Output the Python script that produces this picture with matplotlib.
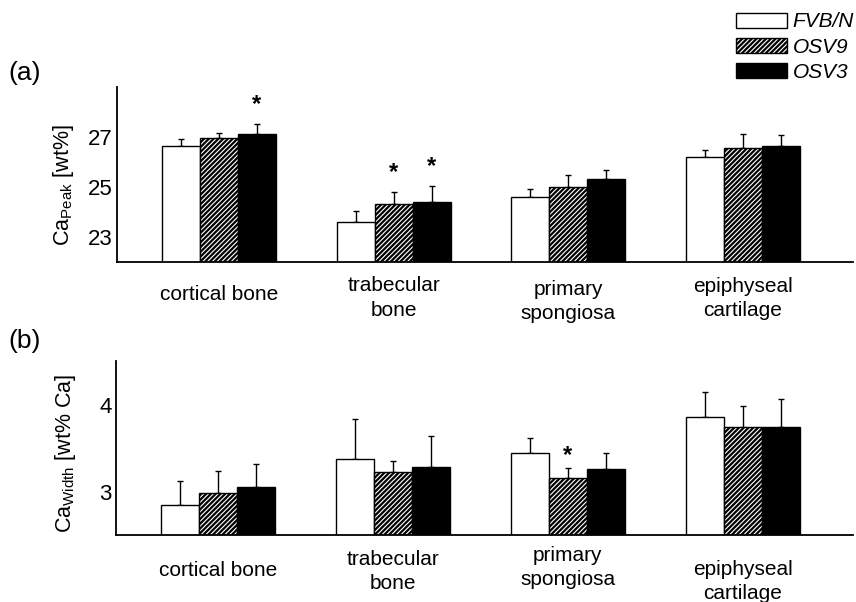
import matplotlib
matplotlib.use("Agg")
import matplotlib.pyplot as plt
import numpy as np

plt.rcParams["font.family"] = ["Liberation Sans", "DejaVu Sans"]
plt.rcParams["hatch.linewidth"] = 1.6

# data
groups = ["cortical bone", "trabecular\nbone", "primary\nspongiosa", "epiphyseal\ncartilage"]
strains = ["FVB/N", "OSV9", "OSV3"]

peak_fvb = [26.64, 23.59, 24.61, 26.19]
peak_osv9 = [26.95, 24.32, 25.01, 26.57]
peak_osv3 = [27.11, 24.41, 25.33, 26.64]
peak_err_fvb = [0.27, 0.45, 0.32, 0.30]
peak_err_osv9 = [0.22, 0.47, 0.46, 0.55]
peak_err_osv3 = [0.40, 0.62, 0.34, 0.44]
peak_stars = [(0, 2), (1, 1), (1, 2)]

width_fvb = [2.85, 3.375, 3.45, 3.86]
width_osv9 = [2.98, 3.23, 3.16, 3.74]
width_osv3 = [3.05, 3.28, 3.26, 3.74]
width_err_fvb = [0.27, 0.455, 0.17, 0.28]
width_err_osv9 = [0.26, 0.12, 0.11, 0.24]
width_err_osv3 = [0.27, 0.36, 0.18, 0.32]
width_stars = [(2, 1)]

# styles
faces = ["white", "white", "black"]
hatches = [None, "///////", None]
bar_w = 0.217

# label offsets below axis (px) per group, for each panel
label_off_a = [33, 36, 39.5, 36.5]
label_off_b = [35, 36.5, 32.5, 46.5]

fig = plt.figure(figsize=(8.56, 6.02), dpi=100)
ax_a = fig.add_axes([0.1367, 0.5648, 0.8598, 0.2907])
ax_b = fig.add_axes([0.1355, 0.1108, 0.8610, 0.2895])


def draw_panel(ax, vals, errs, stars, ylim, yticks, ylabel, offs, star_off):
    x = np.arange(len(groups))
    tops = []
    for k in range(3):
        pos = x + (k - 1) * bar_w
        ax.bar(pos, vals[k], bar_w, color=faces[k], edgecolor="black",
               hatch=hatches[k], linewidth=1.0, zorder=2)
        ax.errorbar(pos, vals[k], yerr=[np.zeros(len(x)), errs[k]], fmt="none",
                    ecolor="black", elinewidth=1.0, capsize=2.2, capthick=1.0, zorder=1)
        tops.append(np.array(vals[k]) + np.array(errs[k]))
    for g, s in stars:
        ax.annotate("*", xy=(x[g] + (s - 1) * bar_w, tops[s][g]), xytext=(0, star_off),
                    textcoords="offset points", ha="center", va="center",
                    fontsize=17, fontweight="bold")
    ax.set_ylim(*ylim)
    ax.set_xlim(-0.584, 3.63)
    ax.set_yticks(yticks)
    ax.set_xticks([])
    ax.tick_params(axis="y", length=0, pad=3, labelsize=16)
    for sp in ["top", "right"]:
        ax.spines[sp].set_visible(False)
    for sp in ["left", "bottom"]:
        ax.spines[sp].set_linewidth(1.3)
    ax.set_ylabel(ylabel, fontsize=15.5)
    for i, name in enumerate(groups):
        ax.annotate(name, xy=(x[i], 0), xycoords=ax.get_xaxis_transform(),
                    xytext=(0, -offs[i] * 0.72), textcoords="offset points",
                    ha="center", va="center", fontsize=15, linespacing=1.35)


draw_panel(ax_a, [peak_fvb, peak_osv9, peak_osv3],
           [peak_err_fvb, peak_err_osv9, peak_err_osv3], peak_stars,
           (22, 29), [23, 25, 27], r"Ca$_\mathregular{Peak}$ [wt%]", label_off_a, 14)
ax_a.yaxis.set_label_coords(-0.056, 0.44)

draw_panel(ax_b, [width_fvb, width_osv9, width_osv3],
           [width_err_fvb, width_err_osv9, width_err_osv3], width_stars,
           (2.5, 4.5), [3, 4], r"Ca$_\mathregular{Width}$ [wt% Ca]", label_off_b, 9)
ax_b.yaxis.set_label_coords(-0.051, 0.47)

fig.text(0.029, 1 - 73 / 602, "(a)", fontsize=19, ha="center", va="center")
fig.text(0.029, 1 - 341 / 602, "(b)", fontsize=19, ha="center", va="center")

handles = [plt.Rectangle((0, 0), 1, 1, facecolor=faces[k], edgecolor="black",
                         hatch=hatches[k], linewidth=1.0) for k in range(3)]
leg = fig.legend(handles, strains, loc="upper right", bbox_to_anchor=(1.012, 1.0),
                 frameon=False, prop={"size": 15, "style": "italic"},
                 handlelength=2.45, handleheight=0.72, handletextpad=0.27,
                 labelspacing=0.3, borderaxespad=0.2)

fig.savefig("out.png", dpi=100)
